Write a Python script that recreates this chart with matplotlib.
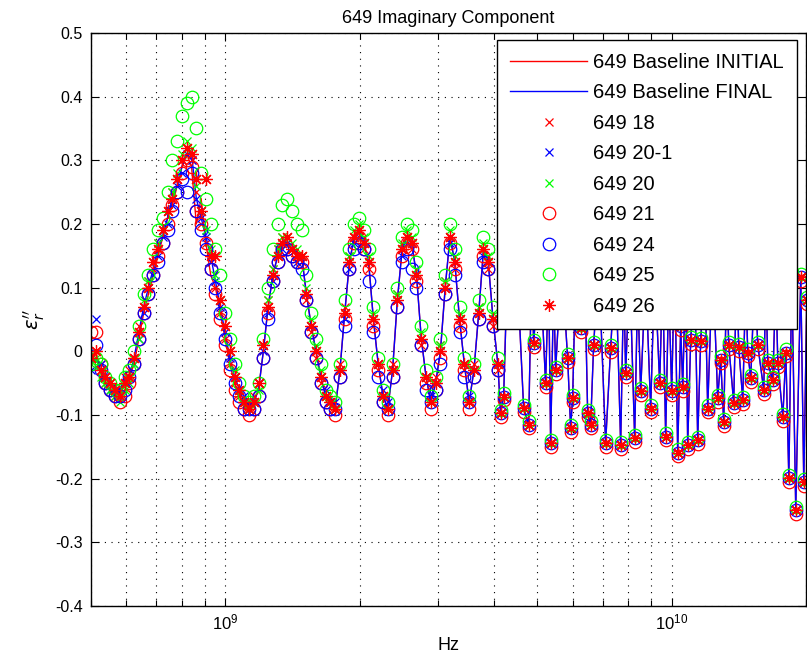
import numpy as np
import matplotlib
matplotlib.use("Agg")
import matplotlib.pyplot as plt
from matplotlib.ticker import LogLocator, FuncFormatter, MultipleLocator, NullFormatter

plt.rcParams["font.family"] = ["Liberation Sans", "DejaVu Sans"]
plt.rcParams["axes.unicode_minus"] = False
plt.rcParams["mathtext.fontset"] = "dejavusans"

# sweep points (GHz): dense part below 4.1 GHz, then the aliased part
freq_lo = [0.500, 0.5125, 0.5253, 0.5384, 0.5519, 0.5657, 0.5798, 0.5943, 0.6092, 0.6244,
           0.6400, 0.6560, 0.6724, 0.6893, 0.7065, 0.7241, 0.7423, 0.7608, 0.7798, 0.7993,
           0.8193, 0.8398, 0.8608, 0.8823, 0.9044, 0.9270, 0.9502, 0.9739, 0.9983, 1.0232,
           1.0488, 1.0750, 1.1019, 1.1295, 1.1577, 1.1866, 1.2163, 1.2467, 1.2779, 1.3098,
           1.3426, 1.3761, 1.4105, 1.4458, 1.4819, 1.5190, 1.5570, 1.5959, 1.6358, 1.6767,
           1.7186, 1.7616, 1.8056, 1.8507, 1.8970, 1.9444, 1.9931, 2.0429, 2.0940, 2.1463,
           2.2000, 2.2550, 2.3113, 2.3691, 2.4284, 2.4891, 2.5513, 2.6151, 2.6804, 2.7475,
           2.8161, 2.8865, 2.9587, 3.0327, 3.1085, 3.1862, 3.2659, 3.3475, 3.4312, 3.5170,
           3.6049, 3.6950, 3.7874, 3.8821, 3.9792, 4.0786]
freq_hi = [4.137, 4.202, 4.289, 4.401, 4.517, 4.659, 4.781, 4.856, 4.906, 5.058,
           5.218, 5.300, 5.355, 5.438, 5.495, 5.667, 5.846, 5.937, 5.999, 6.093,
           6.252, 6.382, 6.482, 6.583, 6.686, 6.861, 7.112, 7.298, 7.488, 7.686,
           7.806, 7.887, 8.051, 8.261, 8.390, 8.521, 8.743, 8.973, 9.160, 9.399,
           9.546, 9.694, 9.847, 10.000, 10.155, 10.315, 10.476, 10.585, 10.750, 10.861,
           11.031, 11.261, 11.437, 11.614, 11.858, 12.042, 12.357, 12.679, 12.878, 13.080,
           13.284, 13.422, 13.772, 13.986, 14.132, 14.428, 14.654, 14.806, 15.037, 15.352,
           15.591, 16.083, 16.250, 16.416, 16.851, 17.113, 17.291, 17.744, 18.021, 18.302,
           18.585, 18.967, 19.463, 19.769, 20.077]

# baselines, low part
initial_lo = [-0.02, 0.00, -0.03, -0.05, -0.05, -0.06, -0.07, -0.05, -0.04, -0.02,
              0.02, 0.06, 0.09, 0.12, 0.15, 0.18, 0.21, 0.23, 0.26, 0.29,
              0.31, 0.29, 0.20, 0.24, 0.17, 0.12, 0.10, 0.06, 0.02, -0.02,
              -0.05, -0.07, -0.09, -0.09, -0.08, -0.06, 0.00, 0.07, 0.12, 0.15,
              0.17, 0.17, 0.16, 0.15, 0.15, 0.09, 0.04, 0.00, -0.04, -0.07,
              -0.08, -0.09, -0.03, 0.06, 0.14, 0.18, 0.19, 0.17, 0.14, 0.05,
              -0.02, -0.07, -0.09, -0.03, 0.08, 0.16, 0.18, 0.17, 0.12, 0.02,
              -0.04, -0.08, -0.05, 0.00, 0.10, 0.18, 0.14, 0.05, -0.02, -0.08,
              -0.03, 0.06, 0.16, 0.14, 0.05, -0.02]
final_lo = [-0.02, -0.01, -0.03, -0.04, -0.05, -0.06, -0.06, -0.05, -0.04, -0.01,
            0.03, 0.07, 0.10, 0.13, 0.16, 0.18, 0.21, 0.24, 0.26, 0.29,
            0.31, 0.31, 0.24, 0.21, 0.18, 0.15, 0.11, 0.07, 0.03, -0.01,
            -0.04, -0.06, -0.08, -0.09, -0.08, -0.06, 0.00, 0.07, 0.12, 0.15,
            0.17, 0.17, 0.16, 0.15, 0.15, 0.09, 0.04, 0.00, -0.04, -0.07,
            -0.08, -0.09, -0.03, 0.06, 0.14, 0.18, 0.19, 0.17, 0.14, 0.05,
            -0.02, -0.07, -0.09, -0.03, 0.08, 0.16, 0.18, 0.17, 0.12, 0.02,
            -0.04, -0.08, -0.05, 0.00, 0.10, 0.18, 0.14, 0.05, -0.02, -0.08,
            -0.03, 0.06, 0.16, 0.14, 0.05, -0.02]
# high part, baselines and most samples sit together there
base_hi = [-0.097, -0.071, 0.14, 0.15, 0.11, -0.089, -0.115, 0.13, 0.013, 0.15,
           -0.05, 0.12, -0.144, 0.10, -0.029, 0.14, -0.01, -0.12, -0.073, 0.12,
           0.037, 0.13, -0.097, -0.115, 0.01, 0.14, -0.144, 0.005, 0.14, -0.147,
           0.11, -0.034, 0.13, -0.136, 0.10, -0.063, 0.12, -0.09, 0.13, -0.05,
           0.12, -0.134, 0.10, -0.063, 0.14, -0.159, 0.039, -0.056, 0.12, -0.147,
           0.018, 0.12, -0.139, 0.016, 0.13, -0.09, 0.14, -0.073, -0.013, -0.111,
           0.12, 0.01, -0.081, 0.13, 0.007, -0.076, 0.11, -0.002, -0.042, 0.12,
           0.01, -0.061, 0.12, -0.018, -0.045, 0.11, -0.018, -0.103, -0.002, -0.199,
           0.12, -0.249, 0.117, -0.206, 0.08]
s21_hi = [-0.103, -0.077, 0.134, 0.144, 0.104, -0.095, -0.121, 0.124, 0.007, 0.144,
          -0.056, 0.114, -0.150, 0.094, -0.035, 0.134, -0.016, -0.126, -0.079, 0.114,
          0.031, 0.124, -0.103, -0.121, 0.004, 0.134, -0.150, -0.001, 0.134, -0.153,
          0.104, -0.040, 0.124, -0.142, 0.094, -0.069, 0.114, -0.096, 0.124, -0.056,
          0.114, -0.140, 0.094, -0.069, 0.134, -0.165, 0.033, -0.062, 0.114, -0.153,
          0.012, 0.114, -0.145, 0.010, 0.124, -0.096, 0.134, -0.079, -0.019, -0.117,
          0.114, 0.004, -0.087, 0.124, 0.001, -0.082, 0.104, -0.008, -0.048, 0.114,
          0.004, -0.067, 0.114, -0.024, -0.051, 0.104, -0.024, -0.109, -0.008, -0.205,
          0.114, -0.255, 0.111, -0.212, 0.074]
s25_hi = [-0.092, -0.066, 0.145, 0.155, 0.115, -0.084, -0.110, 0.135, 0.018, 0.155,
          -0.045, 0.125, -0.139, 0.105, -0.024, 0.145, -0.005, -0.115, -0.068, 0.125,
          0.042, 0.135, -0.092, -0.110, 0.015, 0.145, -0.139, 0.010, 0.145, -0.142,
          0.115, -0.029, 0.135, -0.131, 0.105, -0.058, 0.125, -0.085, 0.135, -0.045,
          0.125, -0.129, 0.105, -0.058, 0.145, -0.154, 0.044, -0.051, 0.125, -0.142,
          0.023, 0.125, -0.134, 0.021, 0.135, -0.085, 0.145, -0.068, -0.008, -0.106,
          0.125, 0.015, -0.076, 0.135, 0.012, -0.071, 0.115, 0.003, -0.037, 0.125,
          0.015, -0.056, 0.125, -0.013, -0.040, 0.115, -0.013, -0.098, 0.003, -0.194,
          0.125, -0.244, 0.122, -0.201, 0.085]

# samples, low part
s18_lo = [-0.01, 0.00, -0.02, -0.05, -0.05, -0.07, -0.06, -0.04, -0.03, -0.01,
          0.04, 0.07, 0.11, 0.13, 0.17, 0.19, 0.22, 0.25, 0.27, 0.30,
          0.32, 0.30, 0.25, 0.20, 0.17, 0.14, 0.10, 0.06, 0.02, -0.02,
          -0.05, -0.07, -0.08, -0.09, -0.07, -0.05, 0.01, 0.08, 0.13, 0.16,
          0.18, 0.17, 0.16, 0.15, 0.14, 0.08, 0.03, -0.01, -0.05, -0.07,
          -0.08, -0.09, -0.02, 0.07, 0.15, 0.18, 0.19, 0.16, 0.13, 0.04,
          -0.03, -0.07, -0.09, -0.02, 0.09, 0.16, 0.18, 0.16, 0.11, 0.01,
          -0.05, -0.08, -0.04, 0.01, 0.11, 0.18, 0.13, 0.04, -0.03, -0.08,
          -0.02, 0.07, 0.16, 0.13, 0.04, -0.03]
s20_1_lo = [-0.03, 0.05, -0.02, -0.04, -0.06, -0.06, -0.07, -0.05, -0.04, -0.02,
            0.02, 0.06, 0.10, 0.12, 0.15, 0.18, 0.20, 0.23, 0.26, 0.28,
            0.31, 0.30, 0.24, 0.21, 0.18, 0.14, 0.11, 0.07, 0.03, -0.01,
            -0.04, -0.06, -0.07, -0.08, -0.08, -0.05, 0.00, 0.06, 0.11, 0.15,
            0.16, 0.17, 0.16, 0.14, 0.15, 0.09, 0.04, 0.00, -0.04, -0.06,
            -0.08, -0.08, -0.03, 0.05, 0.13, 0.17, 0.18, 0.17, 0.14, 0.05,
            -0.02, -0.06, -0.08, -0.03, 0.08, 0.15, 0.17, 0.17, 0.12, 0.02,
            -0.04, -0.07, -0.05, 0.00, 0.10, 0.17, 0.14, 0.05, -0.02, -0.07,
            -0.03, 0.06, 0.15, 0.14, 0.05, -0.02]
s20_lo = [-0.02, -0.01, -0.04, -0.05, -0.06, -0.07, -0.08, -0.06, -0.05, -0.02,
          0.02, 0.08, 0.11, 0.14, 0.17, 0.19, 0.22, 0.25, 0.28, 0.31,
          0.33, 0.32, 0.26, 0.22, 0.19, 0.16, 0.12, 0.08, 0.04, 0.00,
          -0.03, -0.06, -0.08, -0.09, -0.08, -0.06, 0.01, 0.08, 0.13, 0.16,
          0.18, 0.18, 0.17, 0.16, 0.15, 0.10, 0.05, 0.01, -0.03, -0.07,
          -0.08, -0.09, -0.03, 0.06, 0.15, 0.19, 0.20, 0.18, 0.15, 0.06,
          -0.02, -0.07, -0.09, -0.03, 0.09, 0.17, 0.19, 0.18, 0.13, 0.03,
          -0.04, -0.08, -0.05, 0.01, 0.11, 0.19, 0.15, 0.06, -0.02, -0.08,
          -0.03, 0.07, 0.17, 0.15, 0.06, -0.02]
s21_lo = [0.03, 0.03, -0.02, -0.05, -0.06, -0.07, -0.08, -0.07, -0.05, -0.02,
          0.02, 0.06, 0.09, 0.12, 0.15, 0.17, 0.20, 0.23, 0.25, 0.28,
          0.30, 0.29, 0.22, 0.20, 0.17, 0.13, 0.09, 0.05, 0.01, -0.03,
          -0.06, -0.08, -0.09, -0.10, -0.09, -0.07, -0.01, 0.06, 0.11, 0.14,
          0.16, 0.16, 0.15, 0.14, 0.14, 0.08, 0.03, -0.01, -0.05, -0.08,
          -0.09, -0.10, -0.04, 0.05, 0.13, 0.17, 0.18, 0.16, 0.13, 0.04,
          -0.03, -0.08, -0.10, -0.04, 0.07, 0.15, 0.17, 0.16, 0.11, 0.01,
          -0.05, -0.09, -0.06, -0.01, 0.09, 0.17, 0.13, 0.04, -0.03, -0.09,
          -0.04, 0.05, 0.15, 0.13, 0.04, -0.03]
s24_lo = [-0.02, 0.01, -0.03, -0.05, -0.06, -0.07, -0.07, -0.06, -0.04, -0.02,
          0.02, 0.06, 0.09, 0.12, 0.14, 0.17, 0.19, 0.22, 0.25, 0.27,
          0.25, 0.28, 0.22, 0.19, 0.16, 0.13, 0.10, 0.06, 0.02, -0.02,
          -0.05, -0.07, -0.09, -0.09, -0.09, -0.07, -0.01, 0.05, 0.11, 0.14,
          0.16, 0.16, 0.15, 0.14, 0.13, 0.08, 0.03, -0.01, -0.05, -0.08,
          -0.09, -0.09, -0.04, 0.04, 0.13, 0.16, 0.17, 0.16, 0.11, 0.03,
          -0.04, -0.08, -0.09, -0.04, 0.07, 0.14, 0.16, 0.13, 0.10, 0.01,
          -0.06, -0.08, -0.06, -0.02, 0.09, 0.16, 0.12, 0.03, -0.04, -0.08,
          -0.04, 0.05, 0.14, 0.13, 0.04, -0.03]
s25_lo = [-0.02, -0.01, -0.02, -0.04, -0.05, -0.06, -0.06, -0.04, -0.03, 0.00,
          0.04, 0.09, 0.12, 0.16, 0.19, 0.21, 0.25, 0.30, 0.33, 0.37,
          0.39, 0.40, 0.35, 0.28, 0.24, 0.20, 0.16, 0.12, 0.06, 0.02,
          -0.02, -0.05, -0.07, -0.08, -0.07, -0.05, 0.02, 0.10, 0.16, 0.20,
          0.23, 0.24, 0.22, 0.20, 0.19, 0.12, 0.06, 0.02, -0.02, -0.06,
          -0.07, -0.08, -0.02, 0.08, 0.16, 0.20, 0.21, 0.19, 0.16, 0.07,
          -0.01, -0.06, -0.08, -0.02, 0.10, 0.18, 0.20, 0.19, 0.14, 0.04,
          -0.03, -0.07, -0.04, 0.02, 0.12, 0.20, 0.16, 0.07, -0.01, -0.07,
          -0.02, 0.08, 0.18, 0.16, 0.07, -0.01]
s26_lo = [-0.01, 0.00, -0.03, -0.04, -0.05, -0.06, -0.07, -0.05, -0.04, -0.01,
          0.03, 0.07, 0.10, 0.14, 0.16, 0.19, 0.22, 0.24, 0.27, 0.30,
          0.32, 0.31, 0.27, 0.22, 0.27, 0.15, 0.15, 0.08, 0.04, 0.00,
          -0.04, -0.06, -0.08, -0.09, -0.08, -0.05, 0.01, 0.07, 0.12, 0.15,
          0.17, 0.18, 0.16, 0.15, 0.15, 0.09, 0.04, 0.00, -0.04, -0.07,
          -0.08, -0.09, -0.03, 0.06, 0.14, 0.18, 0.19, 0.17, 0.14, 0.05,
          -0.02, -0.07, -0.09, -0.03, 0.08, 0.16, 0.18, 0.17, 0.12, 0.02,
          -0.04, -0.08, -0.05, 0.00, 0.10, 0.18, 0.14, 0.05, -0.02, -0.08,
          -0.03, 0.06, 0.16, 0.14, 0.05, -0.02]

freq = np.array(freq_lo + freq_hi) * 1e9

fig = plt.figure(figsize=(8.07, 6.69), dpi=100)
ax = fig.add_axes([0.1128, 0.0942, 0.8860, 0.8565])

h_init, = ax.plot(freq, initial_lo + base_hi, color="#ff0000", lw=1.0, label="649 Baseline INITIAL")
h_final, = ax.plot(freq, final_lo + base_hi, color="#0000ff", lw=1.0, label="649 Baseline FINAL")

samples = [
    ("649 18", s18_lo + base_hi, "x", "#ff0000", 6),
    ("649 20-1", s20_1_lo + base_hi, "x", "#0000ff", 6),
    ("649 20", s20_lo + base_hi, "x", "#00ff00", 6),
    ("649 21", s21_lo + s21_hi, "o", "#ff0000", 9),
    ("649 24", s24_lo + base_hi, "o", "#0000ff", 9),
    ("649 25", s25_lo + s25_hi, "o", "#00ff00", 9),
    ("649 26", s26_lo + base_hi, (8, 2, 0), "#ff0000", 9),
]
handles = [h_init, h_final]
for name, vals, mk, col, ms in samples:
    h, = ax.plot(freq, vals, ls="none", marker=mk, ms=ms, mfc="none",
                 mec=col, mew=0.9, label=name)
    handles.append(h)

ax.set_xscale("log")
ax.set_xlim(5e8, 2e10)
ax.set_ylim(-0.4, 0.5)
ax.yaxis.set_major_locator(MultipleLocator(0.1))
ax.yaxis.set_major_formatter(FuncFormatter(lambda v, p: "%g" % round(v, 2)))
ax.xaxis.set_minor_locator(LogLocator(base=10, subs=np.arange(2, 10)))
ax.xaxis.set_minor_formatter(NullFormatter())

ax.grid(True, which="major", color="black", ls=(0, (1, 5)), lw=0.8)
ax.grid(True, which="minor", axis="x", color="black", ls=(0, (1, 5)), lw=0.8)
ax.tick_params(which="both", direction="in", top=True, right=True, colors="black")
ax.tick_params(which="major", length=6, width=0.8, labelsize=11.5, pad=6)
ax.tick_params(which="minor", length=4, width=0.8)
ax.tick_params(axis="x", which="major", pad=5, labelsize=12)
for s in ax.spines.values():
    s.set_linewidth(1.0)
    s.set_color("black")

ax.set_title("649 Imaginary Component", fontsize=13, pad=7)
ax.set_xlabel("Hz", fontsize=13, labelpad=3)
ax.set_ylabel(r"$\varepsilon_r^{\prime\prime}$", fontsize=14, labelpad=6)

leg = ax.legend(handles=handles, loc="upper right", bbox_to_anchor=(0.987, 0.988),
                fontsize=14.5, fancybox=False, edgecolor="black", framealpha=1,
                borderaxespad=0, borderpad=0.65, handlelength=3.8,
                handletextpad=0.3, labelspacing=0.57)
leg.get_frame().set_linewidth(1.0)

fig.savefig("out.png", dpi=100)
